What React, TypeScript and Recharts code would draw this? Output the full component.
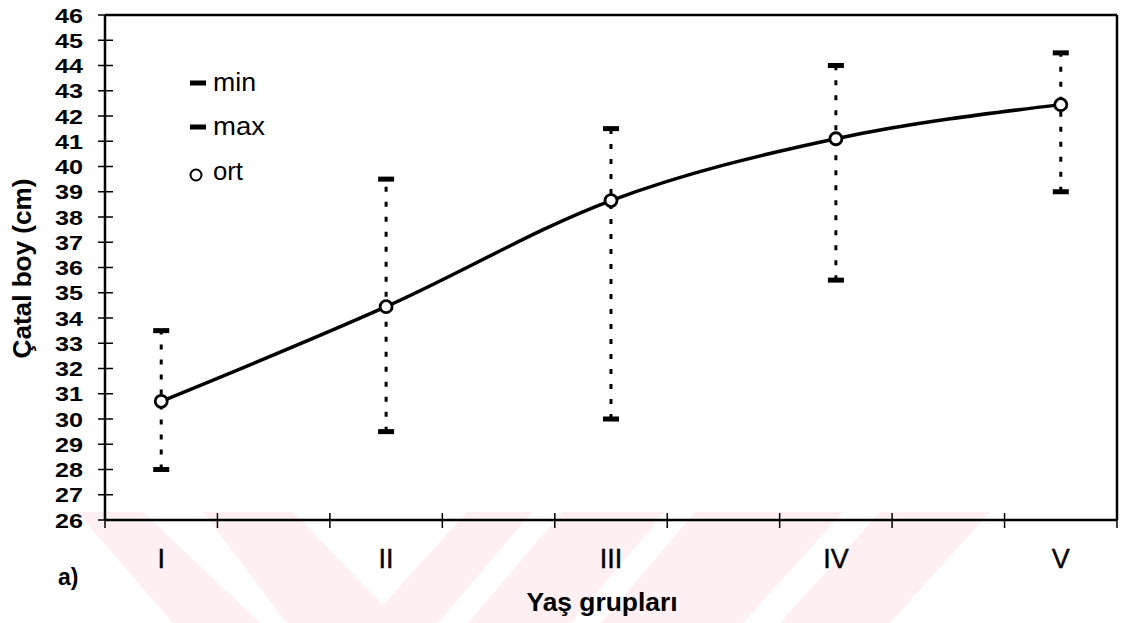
import {
  ComposedChart,
  Line,
  XAxis,
  YAxis,
  ErrorBar,
  ReferenceLine,
  Legend,
} from 'recharts';

const categories = ['I', 'II', 'III', 'IV', 'V'];
const meanValues = [30.7, 34.45, 38.65, 41.1, 42.45];
const minValues = [28, 29.5, 30, 35.5, 39];
const maxValues = [33.5, 39.5, 41.5, 44, 44.5];
const yTicks = [26, 27, 28, 29, 30, 31, 32, 33, 34, 35, 36, 37, 38, 39, 40, 41, 42, 43, 44, 45, 46];
const boundaryTicks = [0, 1, 2, 3, 4, 5, 6, 7, 8, 9];
const legendNames = ['min', 'max', 'ort'];

const FONT = '"Liberation Sans", Arial, sans-serif';

// each age group takes two tick intervals, centred between boundaries
const data = categories.map((name, i) => ({
  name,
  x: i * 2 + 0.5,
  ort: meanValues[i],
  min: minValues[i],
  max: maxValues[i],
  range: [meanValues[i] - minValues[i], maxValues[i] - meanValues[i]],
}));
const labelTicks = data.map(d => d.x);

// watermark stripes in the lower band (decoration only)
const watermark = [
  '77,512 143,512 260,623 173,623',
  '203,512 293,512 383,605 467,512 532,512 438,623 287,623',
  '562,512 665,512 571,623 468,623',
  '695,512 843,512 743,623 601,623',
  '880,512 990,512 890,623 780,623',
];

const YTick = (props: any) => {
  const { x, y, payload } = props;
  const axisX = x + 22;
  return (
    <g>
      <line x1={axisX - 7} x2={axisX + 8} y1={y} y2={y} stroke="#000" strokeWidth={1.5} />
      <text
        x={x - 28}
        y={y + 7.5}
        fontSize={20.5}
        fontWeight="bold"
        fontFamily={FONT}
        fill="#000"
        textLength={28}
        lengthAdjust="spacingAndGlyphs"
      >
        {payload.value}
      </text>
    </g>
  );
};

const BoundaryTick = (props: any) => {
  const { x, y } = props;
  return <line x1={x} x2={x} y1={y - 7} y2={y + 8} stroke="#000" strokeWidth={1.5} />;
};

const GroupTick = (props: any) => {
  const { x, y, payload } = props;
  const idx = labelTicks.indexOf(payload.value);
  return (
    <text x={x} y={y + 47} textAnchor="middle" fontSize={27} fontFamily={FONT} fill="#000" stroke="#000" strokeWidth={0.4}>
      {categories[idx]}
    </text>
  );
};

const XTitle = (props: any) => {
  const vb = props.viewBox;
  return (
    <g>
      <text x={vb.x - 47} y={vb.y + 64} fontSize={23} fontWeight="bold" fontFamily={FONT} fill="#000">
        a)
      </text>
      <text
        x={vb.x + vb.width / 2 - 9}
        y={vb.y + 90}
        textAnchor="middle"
        fontSize={25}
        fontWeight="bold"
        fontFamily={FONT}
        fill="#000"
        textLength={151}
        lengthAdjust="spacingAndGlyphs"
      >
        Yaş grupları
      </text>
    </g>
  );
};

const YTitle = (props: any) => {
  const vb = props.viewBox;
  const cx = 31;
  const cy = vb.y + vb.height / 2 + 1;
  return (
    <text
      x={cx}
      y={cy}
      transform={`rotate(-90, ${cx}, ${cy})`}
      textAnchor="middle"
      fontSize={25}
      fontWeight="bold"
      fontFamily={FONT}
      fill="#000"
      textLength={180}
      lengthAdjust="spacingAndGlyphs"
    >
      Çatal boy (cm)
    </text>
  );
};

const MeanDot = (props: any) => {
  const { cx, cy, index } = props;
  return <circle key={`m${index}`} cx={cx} cy={cy} r={6} fill="#fff" stroke="#000" strokeWidth={2.8} />;
};

const CapDot = (props: any) => {
  const { cx, cy, index, dataKey } = props;
  return <rect key={`${dataKey}${index}`} x={cx - 8} y={cy - 2.5} width={16} height={5} fill="#000" />;
};

const LegendBox = () => (
  <svg width={110} height={140}>
    <rect x={10} y={20.5} width={16} height={5} fill="#000" />
    <text x={33} y={31} fontSize={25} fontFamily={FONT} textLength={43} lengthAdjust="spacingAndGlyphs">
      {legendNames[0]}
    </text>
    <rect x={10} y={64.5} width={16} height={5} fill="#000" />
    <text x={33} y={75} fontSize={25} fontFamily={FONT} textLength={52} lengthAdjust="spacingAndGlyphs">
      {legendNames[1]}
    </text>
    <circle cx={16} cy={115} r={5.5} fill="#fff" stroke="#000" strokeWidth={2} />
    <text x={33} y={120} fontSize={25} fontFamily={FONT} textLength={30} lengthAdjust="spacingAndGlyphs">
      {legendNames[2]}
    </text>
  </svg>
);

export default function App() {
  return (
    <div style={{ position: 'absolute', left: 0, top: 0, width: 1126, height: 623, background: '#fff' }}>
      <svg width={1126} height={623} style={{ position: 'absolute', left: 0, top: 0 }}>
        {watermark.map((pts, i) => (
          <polygon key={i} points={pts} fill="#fdeff2" />
        ))}
      </svg>
      <div style={{ position: 'absolute', left: 0, top: 0 }}>
        <ComposedChart width={1126} height={623} data={data} margin={{ top: 15, right: 9, bottom: 0, left: 0 }}>
          <XAxis
            dataKey="x"
            type="number"
            domain={[0, 9]}
            ticks={boundaryTicks}
            interval={0}
            height={1}
            tickSize={0}
            tickMargin={0}
            tickLine={false}
            tick={BoundaryTick}
            axisLine={{ stroke: '#000', strokeWidth: 2.5 }}
          />
          <XAxis
            xAxisId="lab"
            dataKey="x"
            type="number"
            domain={[0, 9]}
            ticks={labelTicks}
            interval={0}
            height={102}
            tickSize={0}
            tickMargin={0}
            tickLine={false}
            axisLine={false}
            tick={GroupTick}
            label={XTitle}
          />
          <YAxis
            type="number"
            domain={[26, 46]}
            ticks={yTicks}
            interval={0}
            width={105}
            tickSize={0}
            tickMargin={22}
            tickLine={false}
            tick={YTick}
            axisLine={{ stroke: '#000', strokeWidth: 2.5 }}
            label={YTitle}
          />
          <ReferenceLine y={46} stroke="#000" strokeWidth={2.5} />
          <ReferenceLine x={9} stroke="#000" strokeWidth={2.5} />
          <Legend verticalAlign="middle" align="center" content={LegendBox} wrapperStyle={{ position: 'absolute', left: 180, top: 60, width: 110 }} />
          <Line
            xAxisId="lab"
            dataKey="min"
            stroke="none"
            dot={CapDot}
            activeDot={false}
            legendType="none"
            isAnimationActive={false}
          />
          <Line
            xAxisId="lab"
            dataKey="max"
            stroke="none"
            dot={CapDot}
            activeDot={false}
            legendType="none"
            isAnimationActive={false}
          />
          <Line
            dataKey="ort"
            type="monotone"
            stroke="#000"
            strokeWidth={3.5}
            dot={MeanDot}
            activeDot={false}
            isAnimationActive={false}
          >
            <ErrorBar
              dataKey="range"
              direction="y"
              width={0}
              stroke="#000"
              strokeWidth={3}
              strokeDasharray="5 10"
              isAnimationActive={false}
            />
          </Line>
        </ComposedChart>
      </div>
    </div>
  );
}
